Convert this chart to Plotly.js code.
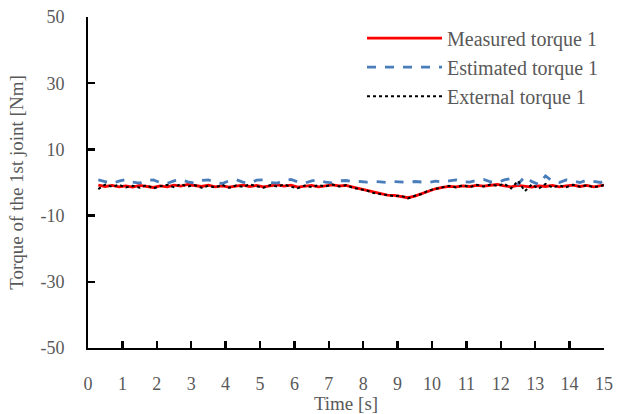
<!DOCTYPE html>
<html>
<head>
<meta charset="utf-8">
<script src="https://cdn.plot.ly/plotly-3.0.1.min.js"></script>
<style>html,body{margin:0;padding:0;background:#fff;}#chart{width:619px;height:414px;}</style>
</head>
<body>
<div id="chart"></div>
<script>
const time = [0.3,0.5,0.7,0.9,1.1,1.3,1.5,1.7,1.9,2.1,2.3,2.5,2.7,2.9,3.1,3.3,3.5,3.7,3.9,4.1,4.3,4.5,4.7,4.9,5.1,5.3,5.5,5.7,5.9,6.1,6.3,6.5,6.7,6.9,7.1,7.3,7.5,7.7,7.9,8.1,8.3,8.5,8.7,8.9,9.1,9.3,9.5,9.7,9.9,10.1,10.3,10.5,10.7,10.9,11.1,11.3,11.5,11.7,11.9,12.1,12.3,12.5,12.7,12.9,13.1,13.3,13.5,13.7,13.9,14.1,14.3,14.5,14.7,14.9,15.0];
const measured = [-0.8,-1.2,-0.9,-1.3,-1.0,-1.4,-0.9,-1.2,-1.5,-1.0,-1.3,-0.8,-1.1,-0.6,-0.9,-1.2,-0.8,-1.3,-1.0,-1.4,-1.1,-0.8,-1.2,-0.9,-1.3,-1.0,-0.7,-1.1,-0.8,-1.4,-1.2,-0.9,-1.3,-1.0,-0.7,-1.0,-0.9,-1.4,-1.9,-2.5,-3.0,-3.4,-3.8,-3.9,-4.2,-4.6,-4.1,-3.4,-2.6,-1.9,-1.5,-1.2,-1.3,-1.0,-1.2,-0.9,-1.1,-0.8,-0.6,-1.0,-1.3,-0.9,-1.1,-1.4,-1.0,-1.2,-0.9,-1.3,-1.0,-0.8,-1.2,-0.9,-1.3,-1.0,-0.8];
const estimated = [0.8,0.2,-0.3,0.4,0.9,0.1,-0.2,0.6,0.8,0.0,-0.3,0.5,0.9,0.2,-0.2,0.6,0.8,0.0,-0.3,0.5,0.9,0.1,-0.2,0.7,0.8,0.0,-0.2,0.6,0.9,0.2,-0.2,0.5,0.8,0.1,-0.1,0.5,0.6,0.2,0.3,0.1,0.3,0.2,0.0,0.3,0.2,0.0,0.3,0.1,0.0,0.4,0.1,0.5,0.8,0.2,0.1,0.7,0.9,0.2,0.0,0.8,1.2,-0.5,1.8,0.3,-0.6,2.0,0.4,0.0,0.8,0.5,0.0,0.7,0.3,0.0,0.5];
const external = [-2.0,-0.6,-1.3,-0.7,-1.5,-1.0,-1.6,-0.8,-1.8,-1.1,-0.7,-1.4,-0.5,-1.2,-0.8,-1.6,-1.0,-1.5,-0.7,-1.6,-0.9,-1.3,-0.6,-1.1,-1.6,-0.8,-1.2,-0.6,-1.3,-1.7,-0.9,-1.4,-0.8,-1.2,-0.6,-1.2,-0.8,-1.6,-2.1,-2.4,-3.2,-3.5,-3.6,-4.1,-4.0,-4.8,-4.0,-3.5,-2.4,-2.0,-1.4,-1.0,-1.5,-0.8,-1.4,-0.7,-1.2,-0.6,-1.0,-0.4,-1.8,0.5,-2.6,-0.6,-1.9,-0.4,-1.5,-0.9,-1.4,-0.7,-1.3,-0.8,-1.4,-1.1,-0.7];
const seriesNames = ["Measured torque 1","Estimated torque 1","External torque 1"];
const xTicks = [0,1,2,3,4,5,6,7,8,9,10,11,12,13,14,15];
const yTicks = [-50,-30,-10,10,30,50];

const FONT = "Liberation Serif, serif";
const GREY = "#595959";
const traces = [
  {x: time, y: measured, name: seriesNames[0], mode: "lines", line: {color: "#ff0000", width: 2.8}},
  {x: time, y: estimated, name: seriesNames[1], mode: "lines", line: {color: "#4a7ebb", width: 2.8, dash: "dash"}},
  {x: time, y: external, name: seriesNames[2], mode: "lines", line: {color: "#000000", width: 2, dash: "dot"}}
];
const layout = {
  width: 619, height: 414,
  margin: {l: 88, r: 15, t: 17, b: 66},
  paper_bgcolor: "#fff", plot_bgcolor: "#fff",
  font: {family: FONT, color: GREY, size: 17},
  showlegend: true,
  legend: {x: 1, xanchor: "right", y: 0.995, yanchor: "top", bgcolor: "rgba(0,0,0,0)", itemwidth: 75,
           font: {family: FONT, size: 20, color: GREY}, tracegroupgap: 0},
  xaxis: {range: [0, 15], tickvals: xTicks, ticktext: xTicks.map(String), ticks: "inside", ticklen: 7, tickwidth: 2.5,
          tickcolor: "#000", showline: true, linecolor: "#000", linewidth: 2, showgrid: false, zeroline: false,
          ticklabelstandoff: 18, tickfont: {size: 18},
          title: {text: "Time [s]", font: {size: 19}, standoff: 0}},
  yaxis: {range: [-50, 50], tickvals: yTicks, ticktext: yTicks.map(String), ticks: "inside", ticklen: 7, tickwidth: 2.5,
          tickcolor: "#000", showline: true, linecolor: "#000", linewidth: 2, showgrid: false, zeroline: false,
          ticklabelstandoff: 18, tickfont: {size: 18},
          title: {text: "Torque of the 1st joint [Nm]", font: {size: 19}, standoff: 12}}
};
Plotly.newPlot("chart", traces, layout, {staticPlot: true, displayModeBar: false});
</script>
</body>
</html>
